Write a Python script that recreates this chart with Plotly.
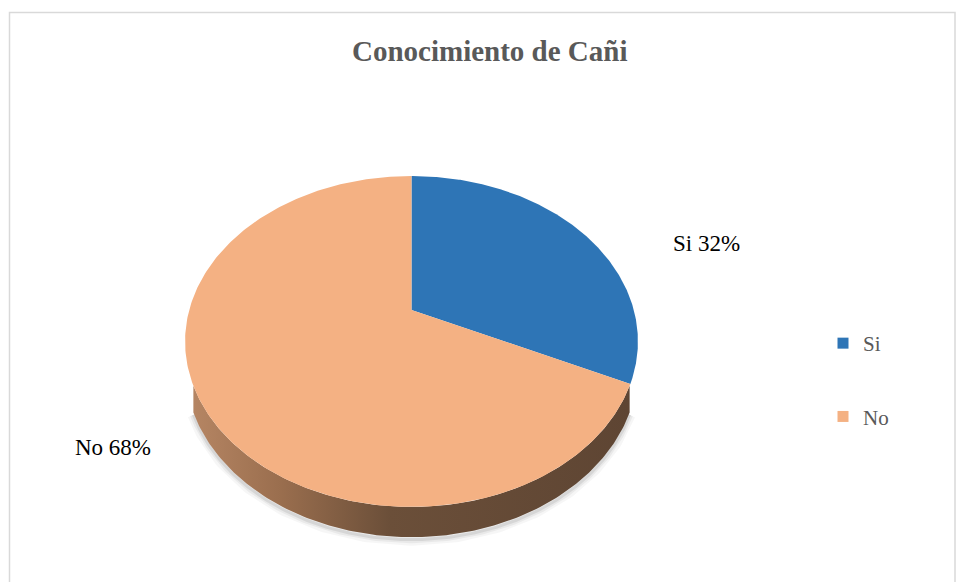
import numpy as np
import plotly.graph_objects as go

# data
labels = ["Si", "No"]
values = [32, 68]
top_colors = ["#2E75B6", "#F4B183"]
side_colors = ["#1F4E79", "#8A6246"]
title_text = "Conocimiento de Cañi"

# 3D-ish pie view (pixel space of the page)
CX, CY = 411.5, 310.0   # projected pie centre
A, B, K = 222.3, 159.5, 0.19   # horizontal radius, vertical radius, perspective
DEPTH = 24.5

FONT = "Liberation Serif"


def project(theta, drop=0.0):
    z = np.cos(theta)
    x = np.sin(theta)
    d = 1 + K * z
    return CX + A * x / d, CY - B * z / d + drop / d


fig = go.Figure()

total = sum(values)
bounds = np.concatenate([[0], np.cumsum(values)]) / total * 2 * np.pi
# side is only really visible a bit past the tangent points
t_lo = np.arccos(-K) + 0.26
t_hi = 2 * np.pi - t_lo

# soft shadow under the side
th = np.linspace(t_lo, t_hi, 200)
sx, sy = project(th, DEPTH + 2)
for w, a in [(12, 0.035), (7, 0.05), (3, 0.08)]:
    fig.add_trace(go.Scatter(x=sx, y=sy, mode="lines", hoverinfo="skip",
                             line=dict(color=f"rgba(0,0,0,{a})", width=w),
                             showlegend=False))

# sides
for i in range(len(values)):
    a0, a1 = max(bounds[i], t_lo), min(bounds[i + 1], t_hi)
    if a1 <= a0:
        continue
    th = np.linspace(a0, a1, 150)
    x1, y1 = project(th)
    x2, y2 = project(th[::-1], DEPTH)
    xs = np.concatenate([x1, x2, x1[:1]])
    ys = np.concatenate([y1, y2, y1[:1]])
    kw = {}
    if i == 1:
        kw["fillgradient"] = dict(type="horizontal", colorscale=[
            [0, "#B58563"], [0.2, "#9A6E4E"], [0.45, "#6B4F39"], [1, "#5E4533"]])
    fig.add_trace(go.Scatter(x=xs, y=ys, mode="lines", fill="toself",
                             fillcolor=side_colors[i], line=dict(width=0),
                             hoverinfo="skip", showlegend=False, **kw))

# top faces
for i in range(len(values)):
    th = np.linspace(bounds[i], bounds[i + 1], 300)
    ax, ay = project(th)
    xs = np.concatenate([[CX], ax, [CX]])
    ys = np.concatenate([[CY], ay, [CY]])
    fig.add_trace(go.Scatter(x=xs, y=ys, mode="lines", fill="toself",
                             fillcolor=top_colors[i], line=dict(width=0),
                             name=labels[i], hoverinfo="name",
                             showlegend=False))

# legend entries
for i in range(len(values)):
    fig.add_trace(go.Scatter(x=[None], y=[None], mode="markers", name=labels[i],
                             legendgroup=labels[i],
                             marker=dict(symbol="square", size=11, color=top_colors[i])))

# data labels
label_pos = [(706, 243), (113, 447)]
for i in range(len(values)):
    fig.add_annotation(x=label_pos[i][0], y=label_pos[i][1], xref="x", yref="y",
                       text=f"{labels[i]} {values[i]}%", showarrow=False,
                       font=dict(family=FONT, size=23, color="#000000"))

fig.add_annotation(x=490, y=51, xref="x", yref="y", text=f"<b>{title_text}</b>",
                   showarrow=False, font=dict(family=FONT, size=29, color="#595959"))

# chart area border
fig.add_shape(type="rect", x0=9.5, y0=12.5, x1=955, y1=600, xref="x", yref="y",
              line=dict(color="#D9D9D9", width=1.5))

fig.update_layout(
    width=956, height=582,
    margin=dict(l=0, r=0, t=0, b=0),
    paper_bgcolor="white", plot_bgcolor="white",
    xaxis=dict(range=[0, 956], visible=False, fixedrange=True),
    yaxis=dict(range=[582, 0], visible=False, fixedrange=True),
    showlegend=True,
    legend=dict(x=823 / 956, y=1 - 323 / 582, xanchor="left", yanchor="top",
                traceorder="grouped", tracegroupgap=43,
                font=dict(family=FONT, size=21, color="#595959"),
                bgcolor="rgba(0,0,0,0)"),
)

fig.write_html("out.html", config={"displayModeBar": False},
               post_script="document.body.style.margin='0px';")
